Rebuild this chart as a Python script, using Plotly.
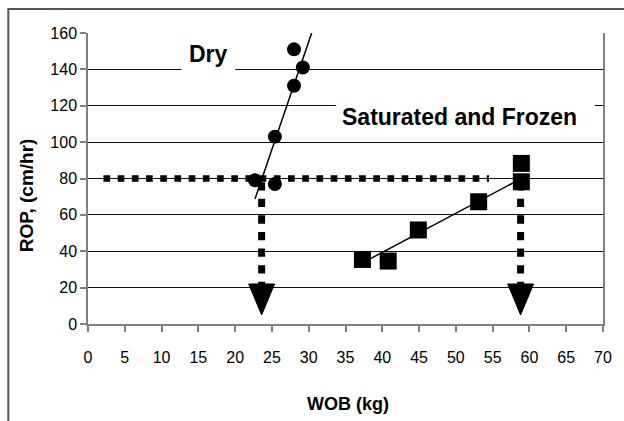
import plotly.graph_objects as go

# ---- data ----
dry_wob = [22.7, 25.4, 25.4, 28.0, 28.0, 29.2]
dry_rop = [79, 77, 103, 131, 151, 141]
dry_trend_wob = [22.7, 30.4]
dry_trend_rop = [68.7, 160]

sat_wob = [37.3, 40.8, 44.9, 53.1, 58.9, 58.9]
sat_rop = [35.5, 34.6, 51.7, 67.2, 88.3, 78.2]
sat_trend_wob = [37.5, 58.9]
sat_trend_rop = [34, 80]

target_rop = 80
target_wob_range = [2.1, 54.5]

arrow_wob = [23.6, 58.8]
arrow_start_rop = [78, 78]
arrow_head_top_rop = [22, 22]
arrow_tip_rop = [5, 5]

x_ticks = list(range(0, 75, 5))
y_ticks = list(range(0, 180, 20))

FONT = "Liberation Sans, Arial, sans-serif"
BLACK = "#000000"
GREY = "#808080"

fig = go.Figure()

# horizontal dotted target line
fig.add_trace(go.Scatter(
    x=target_wob_range, y=[target_rop, target_rop], mode="lines",
    line=dict(color=BLACK, width=6.5, dash="6.7px,7.5px"),
    hoverinfo="skip", showlegend=False))

# vertical dotted arrows
HEAD_HALF_WIDTH = 1.76  # in WOB units
for xw, y0, yh, yt in zip(arrow_wob, arrow_start_rop, arrow_head_top_rop, arrow_tip_rop):
    fig.add_trace(go.Scatter(
        x=[xw, xw], y=[y0, yh], mode="lines",
        line=dict(color=BLACK, width=7, dash="8.3px,8.3px"),
        hoverinfo="skip", showlegend=False))
    fig.add_trace(go.Scatter(
        x=[xw - HEAD_HALF_WIDTH, xw + HEAD_HALF_WIDTH, xw, xw - HEAD_HALF_WIDTH],
        y=[yh, yh, yt, yh], mode="lines", fill="toself",
        fillcolor=BLACK, line=dict(color=BLACK, width=1),
        hoverinfo="skip", showlegend=False))

# trend lines
fig.add_trace(go.Scatter(x=dry_trend_wob, y=dry_trend_rop, mode="lines",
                         line=dict(color=BLACK, width=1.5), showlegend=False))
fig.add_trace(go.Scatter(x=sat_trend_wob, y=sat_trend_rop, mode="lines",
                         line=dict(color=BLACK, width=1.5), showlegend=False))

# markers
fig.add_trace(go.Scatter(x=dry_wob, y=dry_rop, mode="markers", name="Dry",
                         marker=dict(symbol="circle", size=14, color=BLACK),
                         showlegend=False))
fig.add_trace(go.Scatter(x=sat_wob, y=sat_rop, mode="markers", name="Saturated and Frozen",
                         marker=dict(symbol="square", size=17, color=BLACK),
                         showlegend=False))

# white boxes breaking gridlines behind labels
fig.add_shape(type="rect", xref="x", yref="y", x0=12.7, x1=20.0, y0=135, y1=165,
              fillcolor="white", line=dict(width=0), layer="between")
fig.add_shape(type="rect", xref="x", yref="y", x0=33.7, x1=68.9, y0=110, y1=128,
              fillcolor="white", line=dict(width=0), layer="between")

# outer chart frame
fig.add_shape(type="rect", xref="paper", yref="paper",
              x0=(8 - 88) / 517, x1=(660 - 88) / 517,
              y0=(324 - 440) / 291, y1=(324 - 9) / 291,
              line=dict(color="#555555", width=2), fillcolor="rgba(0,0,0,0)", layer="below")

fig.add_annotation(x=16.4, y=148.5, xref="x", yref="y", text="<b>Dry</b>", showarrow=False,
                   font=dict(family=FONT, size=23, color=BLACK))
fig.add_annotation(x=50.5, y=113.7, xref="x", yref="y", text="<b>Saturated and Frozen</b>",
                   showarrow=False, font=dict(family=FONT, size=23, color=BLACK))

fig.add_annotation(x=(26 - 88) / 517, y=(324 - 195) / 291, xref="paper", yref="paper",
                   xanchor="center", yanchor="middle",
                   text="<b>ROP, (cm/hr)</b>", textangle=-90, showarrow=False,
                   font=dict(family=FONT, size=19, color=BLACK))
fig.add_annotation(x=(349 - 88) / 517, y=(324 - 404) / 291, xref="paper", yref="paper",
                   xanchor="center", yanchor="middle",
                   text="<b>WOB (kg)</b>", showarrow=False,
                   font=dict(family=FONT, size=18, color=BLACK))

fig.update_layout(
    width=624, height=421,
    margin=dict(l=88, r=19, t=33, b=97),
    paper_bgcolor="white", plot_bgcolor="white",
    font=dict(family=FONT, size=16, color=BLACK),
    showlegend=False,
)
fig.update_xaxes(range=[0, 70], tickvals=x_ticks, ticktext=[str(v) for v in x_ticks],
                 showgrid=False, zeroline=False, showline=True, linecolor=GREY, linewidth=2,
                 ticks="outside", ticklen=6, tickcolor=GREY, tickwidth=1.5,
                 ticklabelstandoff=12,
                 tickfont=dict(family=FONT, size=16, color=BLACK))
fig.update_yaxes(range=[0, 160], tickvals=y_ticks, ticktext=[str(v) for v in y_ticks],
                 showgrid=True, gridcolor="#111111", gridwidth=1, zeroline=False,
                 showline=True, linecolor=GREY, linewidth=1.5, mirror=True,
                 ticks="outside", ticklen=6, tickcolor=GREY, tickwidth=1.5,
                 tickfont=dict(family=FONT, size=16, color=BLACK))

fig.write_html("out.html", config={"displayModeBar": False},
               post_script="document.body.style.margin='0';document.body.style.overflow='hidden';")
